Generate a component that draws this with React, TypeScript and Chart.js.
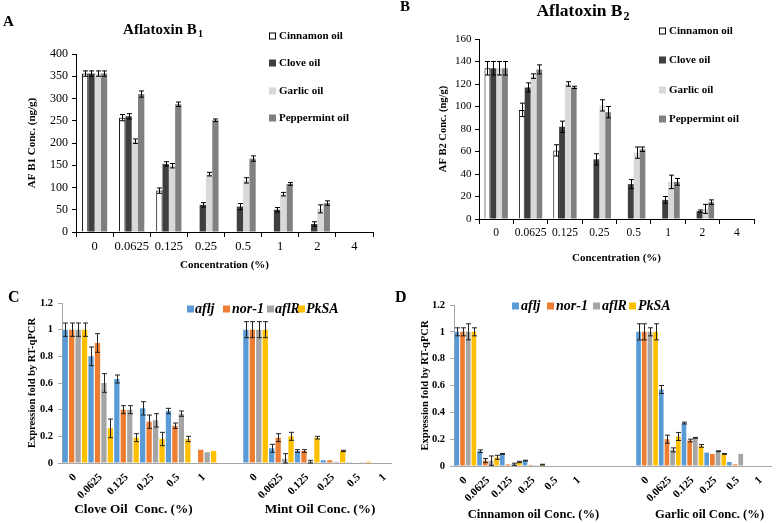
import React, { useEffect, useRef } from 'react';
import { Chart, registerables } from 'chart.js';

Chart.register(...registerables);

const SERIF = '"Liberation Serif", "Times New Roman", Times, serif';

// ---------------- Panels A & B: aflatoxin concentration (ng/g) ----------------
const concLabels = ['0', '0.0625', '0.125', '0.25', '0.5', '1', '2', '4'];
const oilLabels = ['Cinnamon oil', 'Clove oil', 'Garlic oil', 'Peppermint oil'];

const b1Cinnamon = [356, 257, 93, 0, 0, 0, 0, 0];
const b1Clove = [356, 260, 153, 61, 57, 50, 18, 0];
const b1Garlic = [356, 204, 149, 130, 116, 85, 52, 0];
const b1Peppermint = [356, 310, 287, 251, 165, 108, 65, 0];
const b1CinnamonErr = [6, 7, 6, 0, 0, 0, 0, 0];
const b1CloveErr = [6, 6, 5, 5, 7, 5, 5, 0];
const b1GarlicErr = [6, 5, 5, 4, 6, 4, 9, 0];
const b1PeppermintErr = [6, 7, 5, 3, 6, 3, 5, 0];

const b2Cinnamon = [134, 97, 61, 0, 0, 0, 0, 0];
const b2Clove = [134, 117, 82, 53, 31, 17, 7, 0];
const b2Garlic = [134, 127, 120, 101, 59, 33, 9, 0];
const b2Peppermint = [134, 133, 117, 95, 62, 33, 15, 0];
const b2CinnamonErr = [6, 6, 5, 0, 0, 0, 0, 0];
const b2CloveErr = [6, 4, 5, 5, 4, 3, 1, 0];
const b2GarlicErr = [6, 2, 2, 5, 5, 6, 4, 0];
const b2PeppermintErr = [6, 4, 1, 5, 2, 3, 2, 0];

// ---------------- Panels C & D: expression fold by RT-qPCR ----------------
const geneLabels = ['aflj', 'nor-1', 'aflR', 'PkSA'];
const cConcLabels = ['0', '0.0625', '0.125', '0.25', '0.5', '1', '', '0', '0.0625', '0.125', '0.25', '0.5', '1'];
const cGroupTitles = ['Clove Oil  Conc. (%)', 'Mint Oil Conc. (%)'];
const cGroupCenters = [2.27, 9.5];

const cAflj = [1, 0.8, 0.63, 0.41, 0.39, 0, null, 1, 0.11, 0.09, 0.02, 0.002, 0];
const cNor1 = [1, 0.9, 0.4, 0.31, 0.28, 0.1, null, 1, 0.19, 0.09, 0.02, 0.003, 0];
const cAflR = [1, 0.6, 0.4, 0.32, 0.37, 0.08, null, 1, 0.03, 0.01, 0.01, 0.002, 0];
const cPkSA = [1, 0.26, 0.19, 0.18, 0.18, 0.09, null, 1, 0.2, 0.19, 0.09, 0.01, 0];
const cAfljErr = [0.05, 0.07, 0.03, 0.05, 0.02, 0, 0, 0.06, 0.03, 0.01, 0, 0, 0];
const cNor1Err = [0.05, 0.07, 0.03, 0.05, 0.02, 0, 0, 0.06, 0.03, 0.01, 0, 0, 0];
const cAflRErr = [0.05, 0.07, 0.03, 0.05, 0.02, 0, 0, 0.06, 0.04, 0.01, 0, 0, 0];
const cPkSAErr = [0.05, 0.07, 0.03, 0.05, 0.02, 0, 0, 0.06, 0.03, 0.01, 0.005, 0, 0];

const dConcLabels = ['0', '0.0625', '0.125', '0.25', '0.5', '1', '', '', '0', '0.0625', '0.125', '0.25', '0.5', '1'];
const dGroupTitles = ['Cinnamon oil Conc. (%)', 'Garlic oil Conc. (%)'];
const dGroupCenters = [3.0, 10.75];

const dAflj = [1, 0.11, 0.09, 0.04, 0, 0, null, null, 1, 0.57, 0.32, 0.1, 0.03, 0];
const dNor1 = [1, 0.04, 0.012, 0.008, 0, 0, null, null, 1, 0.2, 0.19, 0.09, 0.012, 0];
const dAflR = [1, 0.04, 0.013, 0.002, 0, 0, null, null, 1, 0.12, 0.21, 0.11, 0.09, 0];
const dPkSA = [1, 0.065, 0.03, 0.01, 0, 0, null, null, 1, 0.22, 0.15, 0.09, 0, 0];
const dAfljErr = [0.03, 0.01, 0.003, 0.003, 0, 0, 0, 0, 0.06, 0.03, 0.007, 0, 0, 0];
const dNor1Err = [0.03, 0.015, 0, 0, 0, 0, 0, 0, 0.06, 0.03, 0.01, 0, 0, 0];
const dAflRErr = [0.06, 0.035, 0.008, 0, 0, 0, 0, 0, 0.03, 0.015, 0.003, 0.003, 0, 0];
const dPkSAErr = [0.03, 0.015, 0.005, 0.003, 0, 0, 0, 0, 0.06, 0.03, 0.01, 0.003, 0, 0];

const GRAY_FILLS = ['#ffffff', '#3f3f3f', '#d9d9d9', '#808080'];
const GENE_COLORS = ['#5b9bd5', '#ed7d31', '#a5a5a5', '#ffc000'];
const AXIS_GRAY = '#a6a6a6';

// ---------------- plugins ----------------
const errorBarPlugin = {
  id: 'errorBars',
  afterDatasetsDraw(chart: any, _args: any, opts: any) {
    const { ctx } = chart;
    const yScale = chart.scales.y;
    const cap = opts.cap ?? 2.5;
    ctx.save();
    ctx.strokeStyle = opts.color || '#000';
    ctx.lineWidth = opts.lineWidth || 1;
    chart.data.datasets.forEach((ds: any, i: number) => {
      const meta = chart.getDatasetMeta(i);
      const errs: number[] | undefined = ds.errors;
      if (!errs) return;
      meta.data.forEach((bar: any, j: number) => {
        const v = ds.data[j];
        const e = errs[j];
        if (v == null || !e) return;
        const x = Math.round(bar.x) + 0.5;
        const top = yScale.getPixelForValue(v + e);
        const bot = yScale.getPixelForValue(Math.max(0, v - e));
        ctx.beginPath();
        ctx.moveTo(x, top);
        ctx.lineTo(x, bot);
        ctx.moveTo(x - cap, top);
        ctx.lineTo(x + cap, top);
        ctx.moveTo(x - cap, bot);
        ctx.lineTo(x + cap, bot);
        ctx.stroke();
      });
    });
    ctx.restore();
  },
};

const decorPlugin = {
  id: 'decor',
  afterDraw(chart: any, _args: any, opts: any) {
    const { ctx } = chart;
    ctx.save();
    ctx.textBaseline = 'middle';
    ctx.textAlign = 'left';
    ctx.fillStyle = '#000';
    (opts.texts || []).forEach((t: any) => {
      ctx.font = t.font;
      const mainW = ctx.measureText(t.text).width;
      let subW = 0;
      if (t.sub) {
        ctx.font = t.subFont;
        subW = ctx.measureText(t.sub).width + 1;
      }
      let x = t.x;
      if (t.align === 'center') x = t.x - (mainW + subW) / 2;
      ctx.font = t.font;
      ctx.fillText(t.text, x, t.y);
      if (t.sub) {
        ctx.font = t.subFont;
        ctx.fillText(t.sub, x + mainW + 1, t.y + t.subDy);
      }
    });
    const lg = opts.legend;
    if (lg) {
      ctx.font = lg.font;
      const s = lg.box;
      chart.data.datasets.forEach((ds: any, i: number) => {
        const it = lg.items[i];
        if (!it) return;
        ctx.fillStyle = ds.backgroundColor;
        ctx.fillRect(it.bx, it.y - s / 2, s, s);
        if (ds.borderWidth) {
          ctx.strokeStyle = ds.borderColor;
          ctx.lineWidth = 1;
          ctx.strokeRect(it.bx + 0.5, it.y - s / 2 + 0.5, s - 1, s - 1);
        }
        ctx.fillStyle = '#000';
        ctx.fillText(ds.label, it.tx, it.y + 0.5);
      });
    }
    ctx.restore();
  },
};

// ---------------- config builders ----------------
function aflatoxinConfig(p: any) {
  const series = [p.cin, p.clo, p.gar, p.pep];
  const errs = [p.cinE, p.cloE, p.garE, p.pepE];
  return {
    type: 'bar',
    data: {
      labels: concLabels,
      datasets: series.map((d: any, i: number) => ({
        label: oilLabels[i],
        data: d,
        errors: errs[i],
        backgroundColor: GRAY_FILLS[i],
        borderColor: '#000000',
        borderWidth: i === 0 ? 1 : 0,
      })),
    },
    plugins: [errorBarPlugin, decorPlugin],
    options: {
      responsive: false,
      animation: false,
      events: [],
      layout: { padding: { left: 0, right: p.padRight, top: p.padTop, bottom: 0 } },
      datasets: { bar: { categoryPercentage: 0.68, barPercentage: 1 } },
      plugins: {
        legend: { display: false },
        tooltip: { enabled: false },
        title: { display: false },
        errorBars: { cap: 2.5, color: '#000' },
        decor: {
          texts: [
            { text: p.letter, x: p.letterX, y: p.letterY, font: `bold 15px ${SERIF}` },
            {
              text: 'Aflatoxin B', sub: p.sub, x: p.titleX, y: p.titleY, align: 'center',
              font: `bold ${p.titleSize}px ${SERIF}`, subFont: `bold ${Math.round(p.titleSize * 0.68)}px ${SERIF}`, subDy: p.titleSize * 0.3,
            },
          ],
          legend: {
            font: `bold 11px ${SERIF}`,
            box: 7,
            items: p.legendYs.map((y: number) => ({ bx: p.legendBoxX, tx: p.legendBoxX + 10, y })),
          },
        },
      },
      scales: {
        x: {
          grid: { display: true, drawOnChartArea: false, drawTicks: true, tickLength: 5, color: '#000', offset: true },
          border: { display: true, color: '#000', width: 1 },
          ticks: { color: '#000', font: { family: SERIF, size: p.xTickSize }, padding: p.xTickPad, maxRotation: 0, autoSkip: false },
          title: {
            display: true, text: 'Concentration (%)', color: '#000',
            font: { family: SERIF, size: 11, weight: 'bold' }, padding: { top: 0, bottom: p.xTitlePad },
          },
          afterFit: (s: any) => { s.height = p.xHeight; },
        },
        y: {
          min: 0,
          max: p.yMax,
          grid: { display: true, drawOnChartArea: false, drawTicks: true, tickLength: 4, color: '#000' },
          border: { display: true, color: '#000', width: 1 },
          ticks: { stepSize: p.yStep, color: '#000', font: { family: SERIF, size: p.yTickSize }, padding: p.yTickPad },
          title: {
            display: true, text: p.yTitle, color: '#000',
            font: { family: SERIF, size: p.yTitleSize, weight: 'bold' }, padding: { top: p.yTitlePad, bottom: 0 },
          },
          afterFit: (s: any) => { s.width = p.yWidth; },
        },
      },
    },
  };
}

function expressionConfig(p: any) {
  const series = [p.a, p.n, p.r, p.k];
  const errs = [p.aE, p.nE, p.rE, p.kE];
  const n = p.labels.length;
  return {
    type: 'bar',
    data: {
      labels: p.labels,
      datasets: series.map((d: any, i: number) => ({
        label: geneLabels[i],
        data: d,
        errors: errs[i],
        backgroundColor: GENE_COLORS[i],
        borderWidth: 0,
        xAxisID: 'x',
        yAxisID: 'y',
      })),
    },
    plugins: [errorBarPlugin, decorPlugin],
    options: {
      responsive: false,
      animation: false,
      events: [],
      layout: { padding: { left: 0, right: p.padRight, top: p.padTop, bottom: 0 } },
      datasets: { bar: { categoryPercentage: 1, barPercentage: 0.82 } },
      plugins: {
        legend: { display: false },
        tooltip: { enabled: false },
        title: { display: false },
        errorBars: { cap: 2.5, color: '#222' },
        decor: {
          texts: [{ text: p.letter, x: p.letterX, y: p.letterY, font: `bold 16px ${SERIF}` }],
          legend: {
            font: `italic bold 14px ${SERIF}`,
            box: 7,
            items: p.legendBoxXs.map((bx: number, i: number) => ({ bx, tx: p.legendTextXs[i], y: p.legendY })),
          },
        },
      },
      scales: {
        x: {
          type: 'category',
          position: 'bottom',
          weight: 0,
          grid: { display: true, drawOnChartArea: false, drawTicks: false },
          border: { display: true, color: AXIS_GRAY, width: 1 },
          ticks: {
            color: '#000', font: { family: SERIF, size: 11, weight: 'bold' }, padding: 8,
            minRotation: 45, maxRotation: 45, autoSkip: false,
          },
          afterFit: (s: any) => { s.height = p.xHeight; },
        },
        x2: {
          type: 'linear',
          position: 'bottom',
          weight: 1,
          offset: false,
          bounds: 'data',
          min: -0.5,
          max: n - 0.5,
          grid: { display: false, drawTicks: false, offset: false },
          border: { display: false },
          afterBuildTicks: (s: any) => { s.ticks = p.groupCenters.map((v: number) => ({ value: v })); },
          ticks: {
            color: '#000', font: { family: SERIF, size: p.groupSize, weight: 'bold', lineHeight: 1 }, padding: p.groupPad,
            maxRotation: 0, minRotation: 0, autoSkip: false,
            callback: (v: number) => p.groupTitles[p.groupCenters.indexOf(v)],
          },
          afterFit: (s: any) => { s.height = p.x2Height; },
        },
        y: {
          min: 0,
          max: 1.2,
          grid: { display: true, drawOnChartArea: false, drawTicks: true, tickLength: 4, color: AXIS_GRAY },
          border: { display: true, color: AXIS_GRAY, width: 1 },
          ticks: {
            stepSize: 0.2, color: '#000', font: { family: SERIF, size: 10.5, weight: 'bold' }, padding: 5,
            callback: (v: number) => String(Number(v.toFixed(1))),
          },
          title: {
            display: true, text: 'Expression fold by RT-qPCR', color: '#000',
            font: { family: SERIF, size: 10.5, weight: 'bold' }, padding: { top: p.yTitlePad, bottom: 0 },
          },
          afterFit: (s: any) => { s.width = 62; },
        },
      },
    },
  };
}

const makeA = () => aflatoxinConfig({
  cin: b1Cinnamon, clo: b1Clove, gar: b1Garlic, pep: b1Peppermint,
  cinE: b1CinnamonErr, cloE: b1CloveErr, garE: b1GarlicErr, pepE: b1PeppermintErr,
  padRight: 17, padTop: 54, xHeight: 38, yWidth: 76, yMax: 400, yStep: 50,
  xTickSize: 12.5, xTickPad: 2, xTitlePad: -2, yTickSize: 12, yTickPad: 4,
  yTitle: 'AF B1 Conc. (ng/g)', yTitleSize: 11, yTitlePad: 26,
  letter: 'A', letterX: 3, letterY: 22, sub: '1', titleX: 163, titleY: 30, titleSize: 15,
  legendBoxX: 269, legendYs: [36, 63, 91, 118],
});

const makeB = () => aflatoxinConfig({
  cin: b2Cinnamon, clo: b2Clove, gar: b2Garlic, pep: b2Peppermint,
  cinE: b2CinnamonErr, cloE: b2CloveErr, garE: b2GarlicErr, pepE: b2PeppermintErr,
  padRight: 24, padTop: 39, xHeight: 51, yWidth: 89, yMax: 160, yStep: 20,
  xTickSize: 11.5, xTickPad: 2, xTitlePad: 5.4, yTickSize: 11, yTickPad: 3.5,
  yTitle: 'AF B2 Conc. (ng/g)', yTitleSize: 10.5, yTitlePad: 46.5,
  letter: 'B', letterX: 10, letterY: 7, sub: '2', titleX: 193, titleY: 11.5, titleSize: 17.5,
  legendBoxX: 269, legendYs: [31, 60, 90, 119],
});

const makeC = () => expressionConfig({
  labels: cConcLabels, a: cAflj, n: cNor1, r: cAflR, k: cPkSA,
  aE: cAfljErr, nE: cNor1Err, rE: cAflRErr, kE: cPkSAErr,
  groupTitles: cGroupTitles, groupCenters: cGroupCenters, groupSize: 13.3, groupPad: 2,
  padRight: 2, padTop: 33, xHeight: 38, x2Height: 22, yTitlePad: 25.7,
  letter: 'C', letterX: 8, letterY: 27.5,
  legendY: 39, legendBoxXs: [187, 223, 267, 298], legendTextXs: [195, 232, 275, 306],
});

const makeD = () => expressionConfig({
  labels: dConcLabels, a: dAflj, n: dNor1, r: dAflR, k: dPkSA,
  aE: dAfljErr, nE: dNor1Err, rE: dAflRErr, kE: dPkSAErr,
  groupTitles: dGroupTitles, groupCenters: dGroupCenters, groupSize: 12.6, groupPad: 2.7,
  padRight: 1.4, padTop: 35, xHeight: 40, x2Height: 17, yTitlePad: 26.7,
  letter: 'D', letterX: 3, letterY: 27.5,
  legendY: 36, legendBoxXs: [120, 155, 201, 237], legendTextXs: [129, 164, 210, 246],
});

type PanelProps = { left: number; top: number; width: number; height: number; make: () => any };

function Panel({ left, top, width, height, make }: PanelProps) {
  const ref = useRef<HTMLCanvasElement>(null);
  useEffect(() => {
    if (!ref.current) return;
    const chart = new Chart(ref.current, make());
    return () => chart.destroy();
  }, [make]);
  return (
    <canvas
      ref={ref}
      width={width}
      height={height}
      style={{ position: 'absolute', left, top, width, height, background: '#ffffff', display: 'block' }}
    />
  );
}

export default function App() {
  return (
    <div style={{ position: 'absolute', left: 0, top: 0, width: 778, height: 523, background: '#ffffff', overflow: 'hidden' }}>
      <Panel left={0} top={0} width={390} height={270} make={makeA} />
      <Panel left={390} top={0} width={388} height={270} make={makeB} />
      <Panel left={0} top={270} width={402} height={253} make={makeC} />
      <Panel left={392} top={270} width={386} height={253} make={makeD} />
    </div>
  );
}
